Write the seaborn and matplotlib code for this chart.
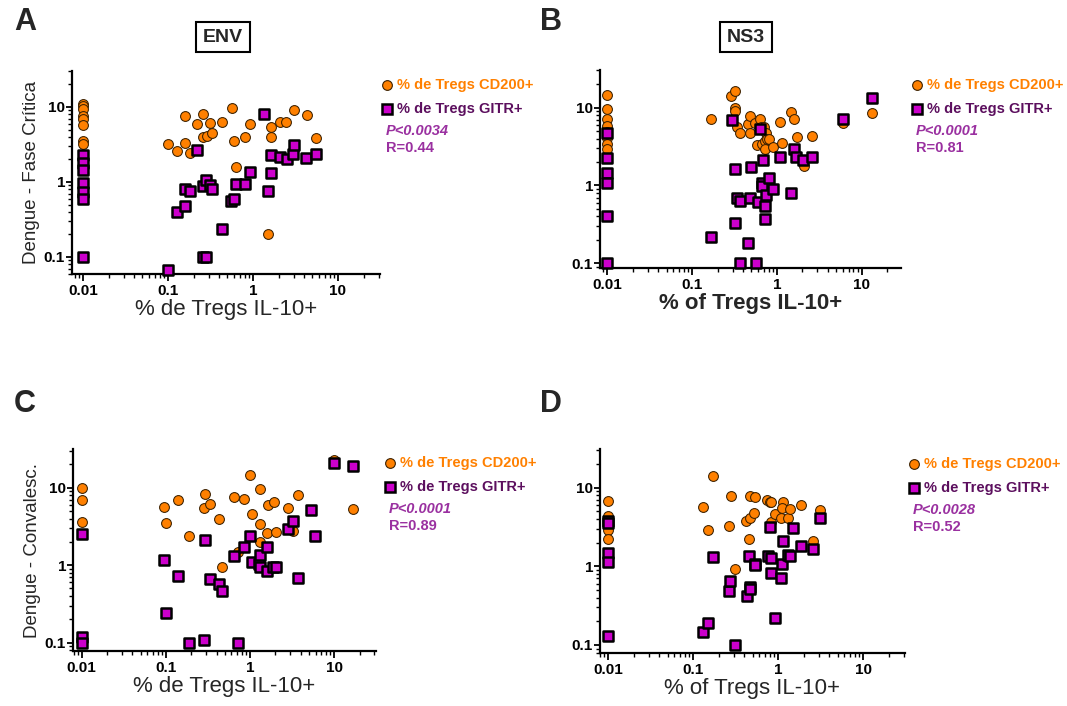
import matplotlib
matplotlib.use("Agg")
import matplotlib.pyplot as plt
import matplotlib.ticker as mticker
import seaborn as sns
import pandas as pd

# ---------------- data ----------------
a_cd200_x = [0.01, 0.01, 0.01, 0.01, 0.01, 0.01, 0.01, 0.01,
             0.1, 0.129, 0.16, 0.16, 0.18, 0.217, 0.26, 0.26, 0.285, 0.312, 0.33, 0.43,
             0.56, 0.6, 0.63, 0.8, 0.91, 1.51, 1.61, 1.63, 2.08, 2.47, 3.03, 4.28, 5.5]
a_cd200_y = [11, 10.3, 9.3, 7.7, 6.9, 5.8, 3.5, 3.2,
             3.2, 2.56, 7.7, 3.3, 2.46, 5.9, 8.1, 3.95, 4.15, 6.05, 4.45, 6.4,
             9.8, 3.56, 1.6, 4.0, 5.9, 0.2, 5.35, 3.95, 6.4, 6.4, 9.1, 7.8, 3.9]
a_gitr_x = [0.01, 0.01, 0.01, 0.01, 0.01, 0.01, 0.01,
            0.1, 0.129, 0.16, 0.16, 0.18, 0.217, 0.255, 0.255, 0.28, 0.28, 0.31, 0.33, 0.43,
            0.55, 0.6, 0.63, 0.8, 0.91, 1.35, 1.5, 1.61, 1.65, 2.08, 2.5, 2.93, 3.03, 4.24, 5.5]
a_gitr_y = [2.29, 1.81, 1.45, 0.98, 0.74, 0.59, 0.099,
            0.068, 0.40, 0.81, 0.48, 0.76, 2.67, 0.89, 0.1, 0.1, 1.06, 0.91, 0.81, 0.236,
            0.56, 0.6, 0.95, 0.93, 1.36, 8.1, 0.76, 2.29, 1.33, 2.13, 2.05, 2.34, 3.08, 2.09, 2.36]

b_cd200_x = [0.01, 0.01, 0.01, 0.01, 0.01, 0.01, 0.01, 0.01,
             0.167, 0.29, 0.32, 0.32, 0.32, 0.34, 0.37, 0.46, 0.48, 0.48, 0.55, 0.63, 0.65,
             0.71, 0.74, 0.58, 0.66, 0.72, 0.77, 0.8, 0.73, 0.89, 1.1, 1.15, 1.46, 1.6, 1.71,
             2.1, 2.59, 6.1, 13.4]
b_cd200_y = [14.3, 9.5, 7.1, 5.8, 4.9, 4.1, 3.4, 2.9,
             7.2, 14.1, 16.1, 10, 9.1, 5.7, 4.68, 6.1, 7.8, 4.77, 6.3, 7.1, 5.7,
             5.7, 4.7, 3.3, 3.4, 3.7, 4.0, 3.9, 2.94, 3.1, 6.5, 3.55, 8.9, 7.1, 4.24,
             1.8, 4.36, 6.3, 8.6]
b_gitr_x = [0.01, 0.01, 0.01, 0.01, 0.01, 0.01,
            0.167, 0.295, 0.32, 0.32, 0.34, 0.37, 0.37, 0.46, 0.48, 0.49, 0.56, 0.6, 0.63,
            0.69, 0.66, 0.67, 0.75, 0.72, 0.72, 0.8, 0.89, 1.1, 1.48, 1.6, 1.7, 2.05, 2.6,
            6.1, 13.2]
b_gitr_y = [4.78, 2.23, 1.46, 1.09, 0.41, 0.1,
            0.22, 6.95, 1.64, 0.33, 0.70, 0.63, 0.1, 0.18, 0.70, 1.71, 0.1, 0.62, 5.3,
            2.13, 1.09, 0.97, 0.76, 0.55, 0.37, 1.25, 0.9, 2.3, 0.79, 2.97, 2.3, 2.13, 2.35,
            7.1, 13.3]

c_cd200_x = [0.01, 0.01, 0.01,
             0.096, 0.1, 0.14, 0.19, 0.28, 0.29, 0.33, 0.43, 0.46, 0.65, 0.72, 0.84, 1.0,
             1.06, 1.3, 1.3, 1.32, 1.59, 1.62, 1.9, 2.05, 2.83, 3.25, 3.72, 10, 16.9]
c_cd200_y = [10, 6.9, 3.6,
             5.6, 3.5, 6.9, 2.36, 5.4, 8.2, 6.1, 4.0, 0.95, 7.7, 1.49, 7.1, 14.6,
             4.57, 9.6, 3.4, 2.0, 2.58, 6.0, 6.6, 2.65, 5.4, 2.76, 8.0, 22.8, 5.25]
c_gitr_x = [0.01, 0.01, 0.01,
            0.096, 0.1, 0.14, 0.19, 0.28, 0.29, 0.33, 0.43, 0.46, 0.645, 0.72, 0.84, 1.0,
            1.04, 1.28, 1.32, 1.32, 1.59, 1.6, 1.87, 2.05, 2.83, 3.25, 3.72, 5.26, 5.87,
            10, 16.9]
c_gitr_y = [2.5, 0.12, 0.098,
            1.17, 0.24, 0.73, 0.1, 0.109, 2.09, 0.67, 0.58, 0.47, 1.33, 0.1, 1.73, 2.36,
            1.09, 1.03, 1.34, 0.94, 1.73, 0.84, 0.96, 0.94, 2.9, 3.7, 0.68, 5.1, 2.38,
            20.6, 19.2]

d_cd200_x = [0.01, 0.01, 0.01, 0.01, 0.01,
             0.13, 0.15, 0.172, 0.263, 0.275, 0.312, 0.42, 0.45, 0.46, 0.46, 0.52, 0.54,
             0.74, 0.79, 0.83, 0.82, 0.91, 1.07, 1.14, 1.12, 1.3, 1.38, 1.85, 2.56, 3.09]
d_cd200_y = [6.8, 4.3, 3.8, 2.9, 2.2,
             5.7, 2.9, 13.9, 3.3, 7.8, 0.93, 3.8, 2.25, 4.16, 7.8, 4.72, 7.7,
             7.0, 6.5, 6.6, 3.7, 4.6, 4.1, 6.5, 5.5, 4.1, 5.4, 6.1, 2.1, 5.2]
d_gitr_x = [0.01, 0.01, 0.01, 0.01, 0.01,
            0.13, 0.15, 0.172, 0.263, 0.27, 0.31, 0.425, 0.46, 0.465, 0.45, 0.54, 0.53,
            0.75, 0.8, 0.83, 0.82, 0.91, 1.07, 1.14, 1.12, 1.3, 1.38, 1.5, 1.85, 2.56, 3.09]
d_gitr_y = [3.8, 3.6, 1.48, 1.12, 0.13,
            0.145, 0.19, 1.31, 0.48, 0.65, 0.1, 0.42, 0.55, 0.51, 1.35, 1.08, 1.04,
            1.35, 3.16, 1.28, 0.83, 0.22, 0.72, 2.08, 1.07, 1.39, 1.37, 3.07, 1.83, 1.68, 4.1]

panel_letters = ["A", "B", "C", "D"]
antigen_titles = ["ENV", "NS3"]
y_labels = ["Dengue - Fase Crítica", "", "Dengue - Convalesc.", ""]
x_labels = ["% de Tregs IL-10+", "% of Tregs IL-10+", "% de Tregs IL-10+", "% of Tregs IL-10+"]
p_values = ["P<0.0034", "P<0.0001", "P<0.0001", "P<0.0028"]
r_values = ["R=0.44", "R=0.81", "R=0.89", "R=0.52"]
legend_labels = ["% de Tregs CD200+", "% de Tregs GITR+"]
x_tick_vals = [0.01, 0.1, 1, 10]
x_tick_labels = ["0.01", "0.1", "1", "10"]
y_tick_vals = [0.1, 1, 10]
y_tick_labels = ["0.1", "1", "10"]

# ---------------- style ----------------
sns.set_style("ticks")
plt.rcParams["font.family"] = ["Liberation Sans", "DejaVu Sans"]

ORANGE = "#ff8000"
MAGENTA = "#cc00cc"
DARKPURPLE = "#5c0f5e"
STATPURPLE = "#9a30a0"

W, H = 1067, 706
fig = plt.figure(figsize=(W / 100, H / 100), dpi=100)

def fx(px):
    return px / W

def fy(py):
    return 1 - py / H

# axes boxes in pixels: left, right, top, bottom
boxes = [(72, 380, 71, 274), (600, 901, 70, 268), (73, 376, 449, 651), (600, 905, 449, 653)]
xlims = [(0.00743, 31.2), (0.0082, 29.1), (0.00788, 31.3), (0.0080, 31.0)]
ylims = [(0.0593, 30.2), (0.087, 30.4), (0.078, 31.6), (0.079, 31.0)]

data = [
    (a_cd200_x, a_cd200_y, a_gitr_x, a_gitr_y),
    (b_cd200_x, b_cd200_y, b_gitr_x, b_gitr_y),
    (c_cd200_x, c_cd200_y, c_gitr_x, c_gitr_y),
    (d_cd200_x, d_cd200_y, d_gitr_x, d_gitr_y),
]

legend_pos = [(387, 85), (917, 85), (390, 463), (914, 464)]
letter_pos = [(14, 22), (540, 22), (14, 404), (540, 404)]
title_pos = [(223, 37), (746, 37)]

ax_over = fig.add_axes([0, 0, 1, 1], facecolor="none", zorder=10)
ax_over.set_axis_off()
ax_over.set_xlim(0, W)
ax_over.set_ylim(H, 0)

for i in range(4):
    l, r, t, b = boxes[i]
    ax = fig.add_axes([fx(l), fy(b), fx(r - l), (b - t) / H])
    cx, cy, gx, gy = data[i]
    df_c = pd.DataFrame({"x": cx, "y": cy})
    df_g = pd.DataFrame({"x": gx, "y": gy})
    sns.scatterplot(data=df_c, x="x", y="y", ax=ax, marker="o", s=50,
                    color=ORANGE, edgecolor="#3a2000", linewidth=0.75, legend=False,
                    zorder=3, clip_on=False)
    sns.scatterplot(data=df_g, x="x", y="y", ax=ax, marker="s", s=44,
                    color=MAGENTA, edgecolor="black", linewidth=1.8, legend=False,
                    zorder=4, clip_on=False)
    ax.set_xscale("log")
    ax.set_yscale("log")
    ax.set_xlim(*xlims[i])
    ax.set_ylim(*ylims[i])
    ax.set_xticks(x_tick_vals)
    ax.set_xticklabels(x_tick_labels)
    ax.set_yticks(y_tick_vals)
    ax.set_yticklabels(y_tick_labels)
    ax.xaxis.set_minor_locator(mticker.LogLocator(base=10, subs=range(2, 10), numticks=20))
    ax.yaxis.set_minor_locator(mticker.LogLocator(base=10, subs=range(2, 10), numticks=20))
    ax.xaxis.set_minor_formatter(mticker.NullFormatter())
    ax.yaxis.set_minor_formatter(mticker.NullFormatter())
    for s in ["top", "right"]:
        ax.spines[s].set_visible(False)
    for s in ["left", "bottom"]:
        ax.spines[s].set_linewidth(1.6)
        ax.spines[s].set_color("black")
    ax.tick_params(axis="x", which="major", length=5, width=1.3, pad=2, labelsize=11, colors="black")
    ax.tick_params(axis="y", which="major", length=4, width=1.3, pad=1, labelsize=11, colors="black")
    ax.tick_params(which="minor", length=3, width=1.0, color="black")
    for lab in ax.get_xticklabels() + ax.get_yticklabels():
        lab.set_fontweight("bold")
    ax.set_xlabel(x_labels[i], fontsize=16, fontweight="bold" if i == 1 else "normal", labelpad=1)
    ax.set_ylabel(y_labels[i], fontsize=13.5, labelpad=3)

    mx, my = legend_pos[i]
    ax_over.plot([mx], [my], marker="o", markersize=7, color=ORANGE, markeredgecolor="#3a2000",
                 markeredgewidth=0.8, linestyle="none")
    ax_over.plot([mx], [my + 24], marker="s", markersize=6.5, color=MAGENTA, markeredgecolor="black",
                 markeredgewidth=1.8, linestyle="none")
    ax_over.text(mx + 10, my, legend_labels[0], color=ORANGE, fontsize=10.5, fontweight="bold",
                 va="center", ha="left")
    ax_over.text(mx + 10, my + 24, legend_labels[1], color=DARKPURPLE, fontsize=10.5,
                 fontweight="bold", va="center", ha="left")
    ax_over.text(mx - 1, my + 46, p_values[i], color=STATPURPLE, fontsize=10.5, fontweight="bold",
                 style="italic", va="center", ha="left")
    ax_over.text(mx - 1, my + 63, r_values[i], color=STATPURPLE, fontsize=10.5, fontweight="bold",
                 va="center", ha="left")
    lx, ly = letter_pos[i]
    ax_over.text(lx, ly, panel_letters[i], fontsize=22, fontweight="bold", va="center", ha="left")

for j in range(2):
    tx, ty = title_pos[j]
    fig.text(fx(tx), fy(ty), antigen_titles[j], fontsize=14, fontweight="bold", ha="center", va="center",
             bbox=dict(boxstyle="square,pad=0.35", facecolor="white", edgecolor="black", linewidth=1.5))

fig.savefig("out.png", dpi=100)
